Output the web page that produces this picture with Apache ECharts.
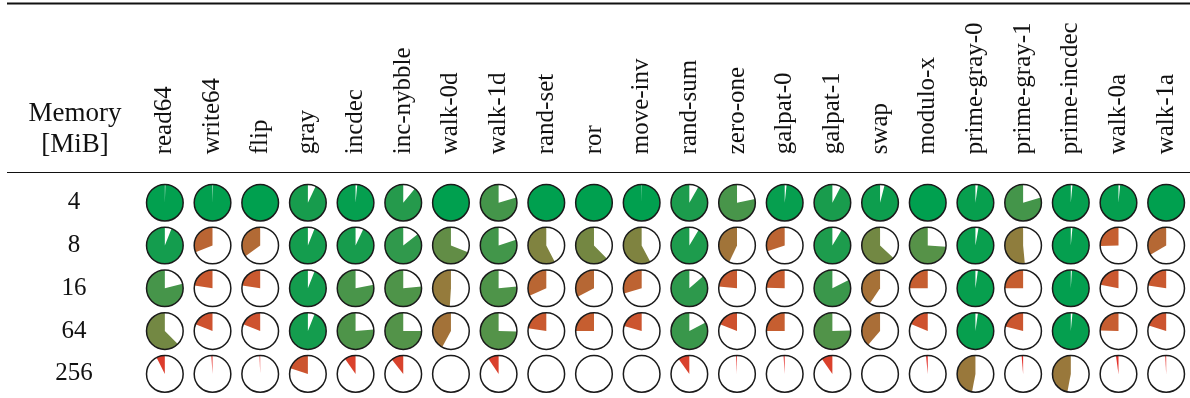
<!DOCTYPE html>
<html>
<head>
<meta charset="utf-8">
<script src="https://cdn.jsdelivr.net/npm/echarts@6/dist/echarts.min.js"></script>
<style>
html,body{margin:0;padding:0;background:#fff;}
#chart{width:1190px;height:398px;}
</style>
</head>
<body>
<div id="chart"></div>
<script>
// Column (test) names
const tests = ['read64','write64','flip','gray','incdec','inc-nybble','walk-0d','walk-1d','rand-set','ror','move-inv','rand-sum','zero-one','galpat-0','galpat-1','swap','modulo-x','prime-gray-0','prime-gray-1','prime-incdec','walk-0a','walk-1a'];
// Row labels (memory size in MiB)
const memSizes = ['4','8','16','64','256'];
// Fraction filled per test, one array per memory size
const mem4   = [0.995,0.995,1.0,0.93,0.985,0.89,1.0,0.795,1.0,1.0,0.997,0.917,0.783,0.983,0.924,0.96,1.0,0.978,0.795,0.985,0.985,1.0];
const mem8   = [0.94,0.31,0.35,0.94,0.93,0.856,0.69,0.80,0.576,0.623,0.578,0.914,0.43,0.30,0.914,0.63,0.74,0.972,0.515,0.985,0.255,0.335];
const mem16  = [0.79,0.226,0.225,0.94,0.78,0.765,0.49,0.765,0.316,0.326,0.295,0.864,0.235,0.245,0.825,0.406,0.25,0.978,0.25,0.99,0.22,0.225];
const mem64  = [0.625,0.19,0.19,0.94,0.765,0.75,0.42,0.747,0.225,0.25,0.205,0.827,0.19,0.25,0.755,0.386,0.186,0.978,0.21,0.985,0.245,0.2];
const mem256 = [0.075,0.01,0.006,0.2,0.097,0.107,0,0.094,0,0,0,0.10,0.008,0.01,0.097,0,0.015,0.47,0.013,0.47,0.022,0.008];

const rowsData = [mem4, mem8, mem16, mem64, mem256];
const data = [];
rowsData.forEach((row, ri) => row.forEach((v, ci) => data.push([ci, ri, v])));

const FONT = '"Liberation Serif", "DejaVu Serif", serif';
const chart = echarts.init(document.getElementById('chart'), null, {renderer: 'canvas'});

chart.setOption({
  animation: false,
  backgroundColor: '#ffffff',
  grid: {left: 141, top: 181.3, width: 1050, height: 214},
  xAxis: {
    type: 'category', position: 'top', data: tests,
    axisLine: {show: false}, axisTick: {show: false}, splitLine: {show: false},
    axisLabel: {rotate: -90, margin: 27, fontFamily: FONT, fontSize: 25, color: '#111', interval: 0}
  },
  yAxis: {
    type: 'category', inverse: true, data: memSizes,
    axisLine: {show: false}, axisTick: {show: false}, splitLine: {show: false},
    axisLabel: {align: 'center', margin: 67, fontFamily: FONT, fontSize: 25, color: '#111'}
  },
  visualMap: {
    show: false, type: 'continuous', dimension: 2, min: 0, max: 1, seriesIndex: 0,
    inRange: {color: ['#e62e2a', '#c65e30', '#937c3c', '#539349', '#00a04f']}
  },
  graphic: [
    {type: 'line', shape: {x1: 7, y1: 3.5, x2: 1190, y2: 3.5}, style: {stroke: '#111', lineWidth: 2}},
    {type: 'line', shape: {x1: 7, y1: 172.5, x2: 1190, y2: 172.5}, style: {stroke: '#111', lineWidth: 1.2}},
    {type: 'text', x: 75, y: 129.5, style: {text: 'Memory\n[MiB]', align: 'center', verticalAlign: 'middle',
      font: '27px ' + FONT, lineHeight: 31, fill: '#111'}}
  ],
  series: [{
    type: 'custom',
    data: data,
    encode: {x: 0, y: 1},
    renderItem: function (params, api) {
      const p = api.coord([api.value(0), api.value(1)]);
      const sz = api.size([1, 1]);
      const r = Math.min(sz[0], sz[1]) * 0.428;
      const f = api.value(2);
      const children = [
        {type: 'circle', shape: {cx: p[0], cy: p[1], r: r}, style: {fill: '#fff', stroke: null}}
      ];
      if (f > 0) {
        children.push({
          type: 'sector',
          shape: {cx: p[0], cy: p[1], r: r, r0: 0, startAngle: -Math.PI / 2,
            endAngle: -Math.PI / 2 - f * 2 * Math.PI, clockwise: false},
          style: {fill: api.visual('color'), stroke: null}
        });
      }
      children.push({type: 'circle', shape: {cx: p[0], cy: p[1], r: r},
        style: {fill: null, stroke: '#1a1a1a', lineWidth: 1.5}});
      return {type: 'group', children: children};
    }
  }]
});
</script>
</body>
</html>
